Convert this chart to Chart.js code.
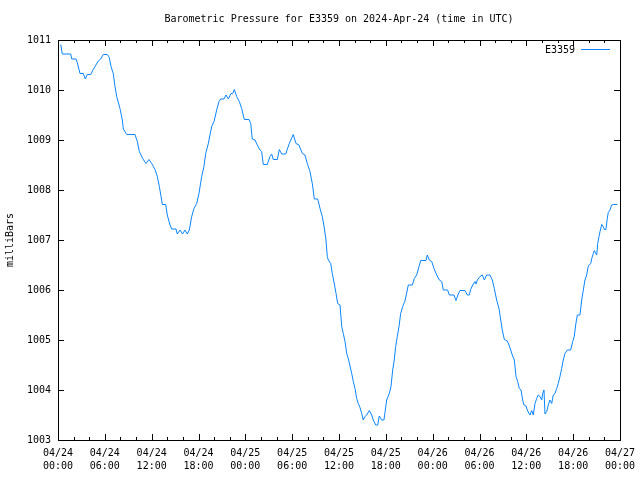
<!DOCTYPE html>
<html>
<head>
<meta charset="utf-8">
<script src="https://cdn.jsdelivr.net/npm/chart.js@4"></script>
<style>
  html, body { margin:0; padding:0; background:#fff; }
  #wrap { width:640px; height:480px; }
</style>
</head>
<body>
<div id="wrap"><canvas id="pressChart" width="640" height="480"></canvas></div>
<script>
// hours since 04/24 00:00 UTC, pressure in millibars
const hours = [0.35,0.55,1.63,1.76,2.31,2.47,2.82,3.24,3.50,3.75,4.19,4.52,5.16,5.47,5.80,6.32,6.57,6.79,7.08,7.30,
  7.52,7.94,8.24,8.37,8.80,9.86,10.16,10.42,10.85,11.27,11.66,12.00,12.43,12.72,12.98,13.20,13.36,13.80,14.00,14.35,
  14.57,15.12,15.28,15.63,15.95,16.27,16.56,16.82,17.13,17.42,17.77,18.06,18.41,18.70,18.92,19.26,19.69,19.99,20.33,20.63,
  20.84,21.27,21.52,21.82,22.16,22.38,22.59,22.89,23.23,23.53,23.87,24.47,24.69,24.89,25.24,25.53,25.88,26.09,26.30,26.81,
  27.16,27.38,27.58,28.10,28.35,28.66,29.17,29.63,30.14,30.49,30.87,31.30,31.64,31.94,32.28,32.58,32.84,33.27,33.57,33.86,
  34.08,34.33,34.50,34.63,34.94,35.14,35.40,35.62,35.83,36.13,36.35,36.55,36.77,36.99,37.19,37.41,37.63,37.83,38.05,38.27,
  38.47,38.69,38.91,39.11,39.33,39.55,39.88,40.19,40.39,40.70,40.96,41.16,41.47,41.76,41.89,42.11,42.44,42.66,42.88,43.08,
  43.26,43.47,43.69,43.90,44.16,44.45,44.75,44.88,45.39,45.65,45.95,46.25,46.47,47.15,47.31,47.57,47.88,48.17,48.52,48.85,
  49.16,49.36,49.92,50.13,50.73,50.99,51.28,51.50,52.14,52.44,52.69,52.87,53.13,53.42,53.55,53.72,54.07,54.36,54.62,54.92,
  55.34,55.64,55.89,56.20,56.50,56.72,56.92,57.18,57.56,57.78,58.00,58.20,58.46,58.68,58.89,59.10,59.32,59.53,59.70,59.96,
  60.12,60.34,60.47,60.69,60.89,61.11,61.33,61.53,61.75,61.97,62.09,62.26,62.39,62.61,62.81,63.03,63.25,63.45,63.67,63.89,
  64.09,64.31,64.53,64.73,64.95,65.25,65.68,65.94,66.14,66.32,66.53,66.87,67.09,67.30,67.51,67.73,67.94,68.25,68.38,68.58,
  68.71,68.89,69.02,69.14,69.31,69.44,69.66,69.86,69.99,70.20,70.37,70.50,70.72,70.93,71.14,71.65];
const pressure = [1010.91,1010.72,1010.72,1010.62,1010.62,1010.55,1010.33,1010.33,1010.22,1010.31,1010.31,1010.41,1010.58,1010.62,1010.71,1010.71,1010.65,1010.47,1010.33,1010.07,
  1009.87,1009.63,1009.40,1009.22,1009.11,1009.11,1008.97,1008.77,1008.63,1008.53,1008.61,1008.53,1008.41,1008.27,1008.07,1007.87,1007.71,1007.71,1007.50,1007.30,
  1007.22,1007.22,1007.12,1007.20,1007.12,1007.20,1007.12,1007.20,1007.47,1007.63,1007.73,1007.93,1008.27,1008.47,1008.73,1008.93,1009.27,1009.37,1009.60,1009.77,
  1009.82,1009.82,1009.90,1009.82,1009.93,1009.93,1010.01,1009.87,1009.77,1009.63,1009.41,1009.41,1009.33,1009.02,1009.00,1008.90,1008.80,1008.77,1008.51,1008.51,
  1008.67,1008.72,1008.61,1008.61,1008.81,1008.72,1008.72,1008.93,1009.11,1008.93,1008.90,1008.73,1008.70,1008.53,1008.37,1008.13,1007.82,1007.82,1007.63,1007.47,
  1007.28,1007.00,1006.67,1006.60,1006.53,1006.33,1006.12,1005.93,1005.73,1005.70,1005.27,1005.13,1004.97,1004.73,1004.63,1004.48,1004.33,1004.17,1004.03,1003.83,
  1003.73,1003.65,1003.53,1003.40,1003.47,1003.50,1003.59,1003.50,1003.40,1003.30,1003.30,1003.48,1003.40,1003.40,1003.55,1003.80,1003.93,1004.07,1004.40,1004.60,
  1004.87,1005.07,1005.27,1005.53,1005.67,1005.78,1006.00,1006.10,1006.10,1006.23,1006.30,1006.47,1006.59,1006.59,1006.70,1006.60,1006.57,1006.43,1006.30,1006.20,
  1006.17,1006.00,1006.00,1005.90,1005.90,1005.79,1005.92,1005.99,1005.99,1005.90,1005.90,1006.01,1006.10,1006.17,1006.12,1006.20,1006.27,1006.30,1006.20,1006.30,
  1006.30,1006.20,1006.03,1005.80,1005.63,1005.40,1005.20,1005.01,1004.98,1004.90,1004.80,1004.70,1004.60,1004.27,1004.17,1004.03,1004.00,1003.80,1003.70,1003.68,
  1003.60,1003.53,1003.50,1003.59,1003.50,1003.73,1003.83,1003.90,1003.87,1003.80,1003.93,1004.00,1003.52,1003.57,1003.70,1003.80,1003.73,1003.90,1003.93,1004.03,
  1004.13,1004.27,1004.43,1004.60,1004.73,1004.80,1004.80,1004.97,1005.07,1005.30,1005.50,1005.50,1005.80,1006.00,1006.20,1006.30,1006.48,1006.53,1006.63,1006.73,
  1006.79,1006.73,1006.70,1006.93,1007.07,1007.17,1007.31,1007.27,1007.21,1007.21,1007.43,1007.55,1007.60,1007.70,1007.71,1007.71];

const tickDates = ['04/24','04/24','04/24','04/24','04/25','04/25','04/25','04/25','04/26','04/26','04/26','04/26','04/27'];
const tickTimes = ['00:00','06:00','12:00','18:00','00:00','06:00','12:00','18:00','00:00','06:00','12:00','18:00','00:00'];

const titleText = 'Barometric Pressure for E3359 on 2024-Apr-24 (time in UTC)';
const lineColor = '#0a84ff';
const monoFont = "'DejaVu Sans Mono', monospace";

// gnuplot-ish frame: title over plot, border, inward ticks on all sides, legend top right
const framePlugin = {
  id:'frame',
  afterDatasetsDraw(chart){
    const {ctx, chartArea:a, scales:{x, y}} = chart;
    ctx.save();
    ctx.font = '10px ' + monoFont;
    ctx.fillStyle = '#000';
    ctx.textAlign = 'center';
    ctx.textBaseline = 'middle';
    ctx.fillText(titleText, (a.left + a.right) / 2, 19);

    ctx.strokeStyle = '#000';
    ctx.lineWidth = 1;
    ctx.strokeRect(a.left + 0.5, a.top + 0.5, a.right - a.left, a.bottom - a.top);
    ctx.beginPath();
    for (let h = 0; h <= 72; h += 2) {
      const px = Math.round(x.getPixelForValue(h)) + 0.5;
      const len = h % 6 === 0 ? 6 : 3;
      ctx.moveTo(px, a.bottom); ctx.lineTo(px, a.bottom - len);
      ctx.moveTo(px, a.top); ctx.lineTo(px, a.top + len);
    }
    for (let v = 1003; v <= 1011; v++) {
      const py = Math.round(y.getPixelForValue(v)) + 0.5;
      ctx.moveTo(a.left, py); ctx.lineTo(a.left + 6, py);
      ctx.moveTo(a.right, py); ctx.lineTo(a.right - 6, py);
    }
    ctx.stroke();

    // legend
    const ds = chart.data.datasets[0];
    ctx.textAlign = 'right';
    ctx.fillText(ds.label, a.right - 45, a.top + 10);
    ctx.strokeStyle = ds.borderColor;
    ctx.beginPath();
    ctx.moveTo(a.right - 39, a.top + 9.5);
    ctx.lineTo(a.right - 10, a.top + 9.5);
    ctx.stroke();
    ctx.restore();
  }
};

Chart.defaults.font.family = monoFont;
Chart.defaults.font.size = 10;
Chart.defaults.color = '#000';

new Chart(document.getElementById('pressChart'), {
  type:'line',
  data:{
    datasets:[{
      label:'E3359',
      data: hours.map((h,i)=>({x:h, y:pressure[i]})),
      borderColor: lineColor,
      borderWidth:1,
      pointRadius:0,
      tension:0,
      fill:false
    }]
  },
  options:{
    responsive:false,
    animation:false,
    layout:{ padding:{ top:40, right:20 } },
    plugins:{
      legend:{ display:false },
      tooltip:{ enabled:false }
    },
    scales:{
      x:{
        type:'linear', min:0, max:72,
        grid:{ display:false, drawTicks:false }, border:{ display:false },
        afterFit: s => { s.height = 40; s.paddingLeft = 10; s.paddingRight = 10; },
        ticks:{
          stepSize:6, autoSkip:false, maxRotation:0, padding:7,
          font:{ size:10, lineHeight:1.3 },
          callback: v => [tickDates[v/6], tickTimes[v/6]]
        }
      },
      y:{
        min:1003, max:1011,
        grid:{ display:false, drawTicks:false }, border:{ display:false },
        afterFit: s => { s.width = 58; },
        ticks:{ stepSize:1, padding:7, callback: v => String(v) },
        title:{ display:true, text:'milliBars', font:{ size:10 }, padding:{ top:4, bottom:0 } }
      }
    }
  },
  plugins:[framePlugin]
});
</script>
</body>
</html>
